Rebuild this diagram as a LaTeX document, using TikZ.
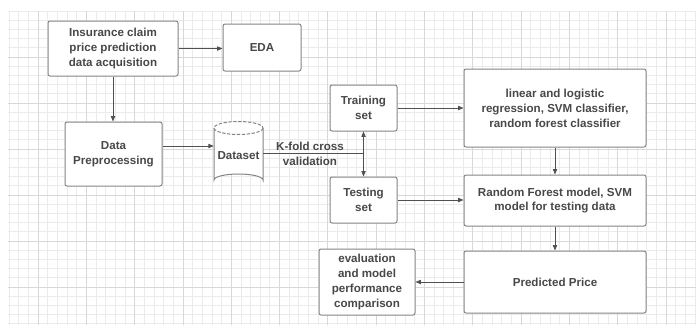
\documentclass[tikz,border=0pt]{standalone}
\usepackage{fontspec}
\setmainfont{Liberation Sans}
\usetikzlibrary{arrows.meta,calc}
\definecolor{txt}{HTML}{484848}
\definecolor{edge}{HTML}{858585}
\definecolor{conn}{HTML}{505050}
\definecolor{gminor}{HTML}{EBEBEB}
\definecolor{gmajor}{HTML}{D8D8D8}
\tikzset{
  box/.style={draw=edge, line width=0.75pt, rounded corners=1.5pt, fill=white,
    align=center, text=txt, font=\bfseries\fontsize{8.7}{11.2}\selectfont, inner sep=0pt},
  conn/.style={draw=conn, line width=0.6pt},
  arr/.style={conn, -{Triangle[length=4pt,width=3.2pt]}},
  lbl/.style={align=center, text=txt, font=\bfseries\fontsize{8.7}{11.2}\selectfont, inner sep=0pt}
}
\begin{document}
\begin{tikzpicture}[x=0.75pt,y=-0.75pt]
\useasboundingbox (0,0) rectangle (696,329);
\fill[white] (0,0) rectangle (696,329);
% grid
\foreach \i in {0,...,71} {\draw[gminor, line width=0.5pt] ({9+9.66*\i},11) -- ({9+9.66*\i},325);}
\foreach \j in {0,...,34} {\draw[gminor, line width=0.5pt] (8,{11+9.2*\j}) -- (696,{11+9.2*\j});}
\foreach \i in {0,...,14} {\draw[gmajor, line width=0.6pt] ({-10.3+48.3*\i},11) -- ({-10.3+48.3*\i},325);}
\foreach \j in {1,...,6} {\draw[gmajor, line width=0.6pt] (8,{11+46*\j}) -- (696,{11+46*\j});}
% nodes
\node[box, minimum width=97.5pt, minimum height=41.25pt] (ins) at (113,48.5) {Insurance claim\\price prediction\\data acquisition};
\node[box, minimum width=58.5pt, minimum height=35.25pt] (eda) at (262,47.5) {EDA};
\node[box, minimum width=72.75pt, minimum height=48pt] (pre) at (113.5,154) {Data\\Preprocessing};
% cylinder
\draw[edge, line width=0.75pt, fill=white] (214,128) -- (214,180) arc[start angle=180, end angle=360, x radius=24.5, y radius=6] -- (263,128);
\draw[edge, line width=0.75pt, fill=white, dash pattern=on 2.5pt off 1.2pt] (238.5,128) ellipse[x radius=24.5, y radius=6.5];
\node[lbl, minimum width=36.75pt, minimum height=45pt] (ds) at (238.5,156) {Dataset};
\node[box, minimum width=50.25pt, minimum height=34.5pt] (train) at (363.5,108) {Training\\set};
\node[box, minimum width=50.25pt, minimum height=34.5pt] (test) at (363.5,200) {Testing\\set};
\node[box, minimum width=136.5pt, minimum height=58.5pt] (lin) at (555,108) {linear and logistic\\regression, SVM classifier,\\random forest classifier};
\node[box, minimum width=136.5pt, minimum height=38.25pt] (rf) at (555,200.5) {Random Forest model, SVM\\model for testing data};
\node[box, minimum width=136.5pt, minimum height=46.5pt] (pred) at (555,282) {Predicted Price};
\node[box, minimum width=72pt, minimum height=49.5pt] (eval) at (367,282) {evaluation\\and model\\performance\\comparison};
\node[lbl] (kfl) at (310,153.5) {K-fold cross\\validation};
% connectors
\draw[arr] (ins.east) -- (ins.east -| eda.west);
\draw[arr] (ins.south) -- (ins.south |- pre.north);
\coordinate (pa) at ($(pre.east)+(0,-8)$);
\draw[arr] (pa) -- (pa -| ds.west);
\coordinate (kf) at ($(train.south)!0.5!(test.north)+(0,-1)$);
\draw[conn] (ds.east |- kf) -- (kf);
\draw[conn, {Triangle[length=4pt,width=3.2pt]}-{Triangle[length=4pt,width=3.2pt]}] (train.south) -- (test.north);
\draw[arr] (train.east) -- (train.east -| lin.west);
\draw[arr] (lin.south) -- (rf.north);
\draw[arr] (test.east) -- (test.east -| rf.west);
\draw[arr] (rf.south) -- (pred.north);
\draw[arr] (pred.west) -- (pred.west -| eval.east);
\end{tikzpicture}
\end{document}
